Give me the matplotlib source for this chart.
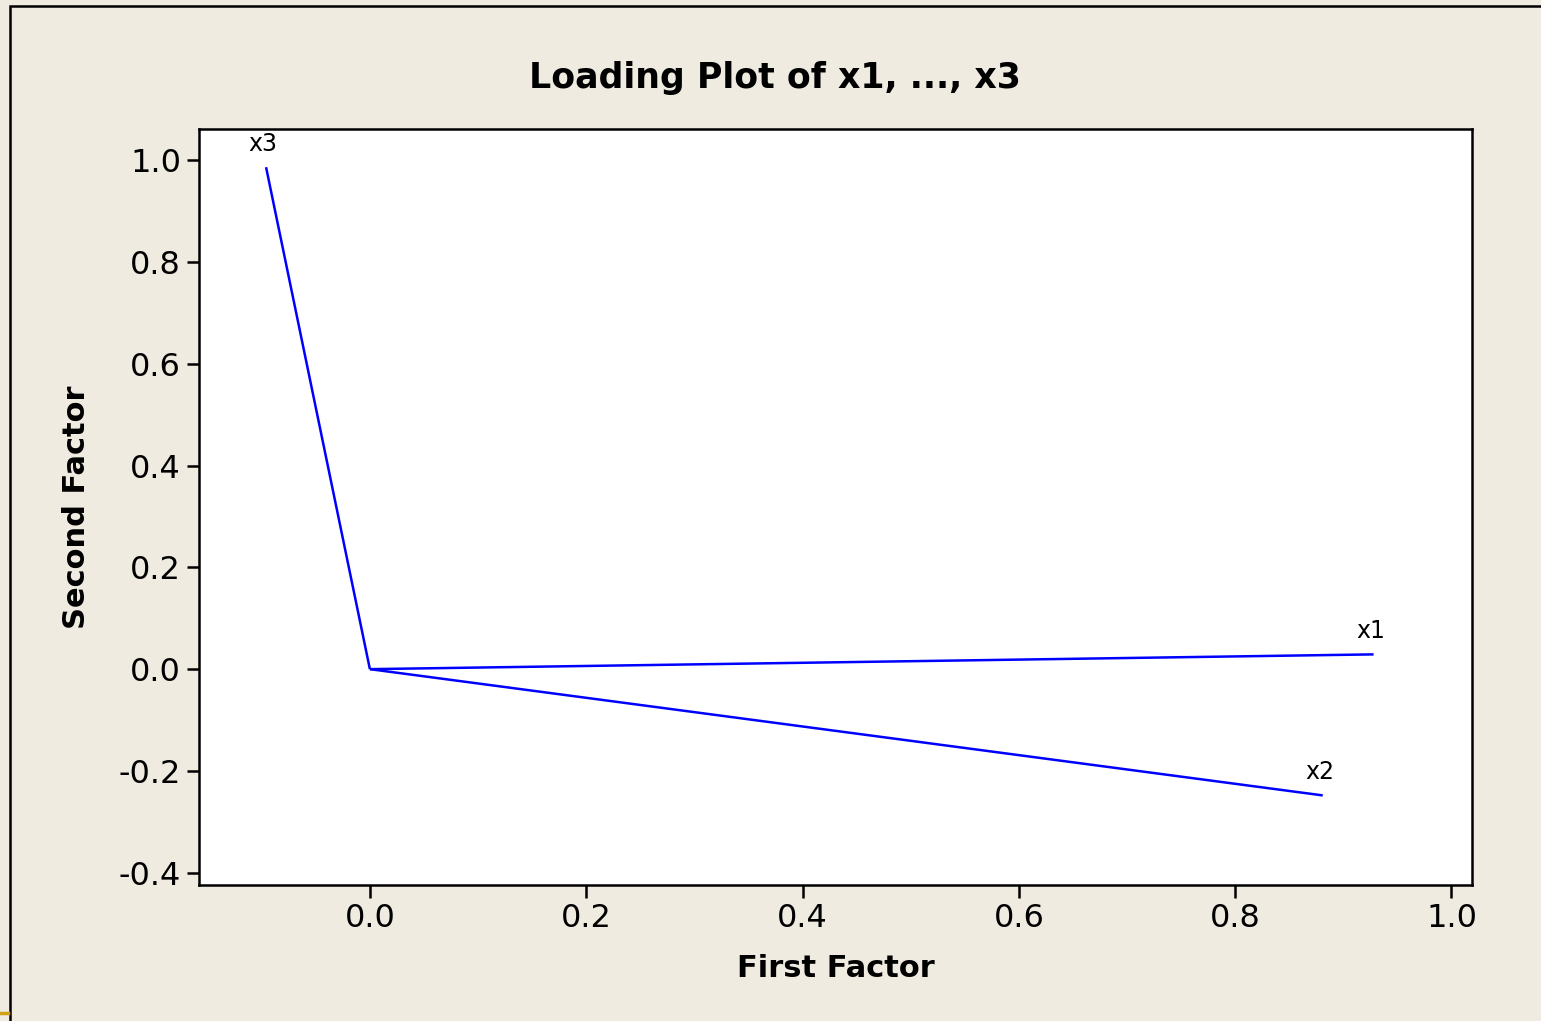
import matplotlib
matplotlib.use("Agg")
import matplotlib.pyplot as plt
from matplotlib.patches import Rectangle
from matplotlib.lines import Line2D

variables = ["x1", "x2", "x3"]
first_factor = [0.928, 0.881, -0.096]
second_factor = [0.029, -0.248, 0.986]

xticks = [0.0, 0.2, 0.4, 0.6, 0.8, 1.0]
yticks = [-0.4, -0.2, 0.0, 0.2, 0.4, 0.6, 0.8, 1.0]

W, H = 1541, 1021
fig = plt.figure(figsize=(W / 100, H / 100), dpi=100)
bg = "#EFEBE1"
fig.patch.set_facecolor(bg)

# outer frame (left and top edges visible)
fig.add_artist(Rectangle((10 / W, -0.05), 1.2, 1 - 6 / H + 0.05, transform=fig.transFigure,
                         fill=False, edgecolor="black", linewidth=1.8))
fig.add_artist(Line2D([0, 8 / W], [1 - 1013 / H] * 2, transform=fig.transFigure,
                      color="#D4A017", linewidth=2.5))

ax = fig.add_axes([199 / W, 1 - 885 / H, (1472 - 199) / W, (885 - 129) / H])
ax.set_facecolor("white")

for name, fx, fy in zip(variables, first_factor, second_factor):
    ax.plot([0, fx], [0, fy], color="#0000FF", linewidth=1.8, solid_capstyle="butt")
    ax.annotate(name, (fx, fy), xytext=(-2, 8), textcoords="offset points",
                ha="center", va="bottom", fontsize=17)

ax.set_xlim(-0.158, 1.019)
ax.set_ylim(-0.424, 1.061)
ax.set_xticks(xticks)
ax.set_yticks(yticks)
ax.set_xticklabels([f"{v:.1f}" for v in xticks])
ax.set_yticklabels([f"{v:.1f}" for v in yticks])
ax.tick_params(direction="out", length=9, width=1.8, labelsize=23, pad=4)
for s in ax.spines.values():
    s.set_linewidth(1.8)

ax.set_xlabel("First Factor", fontsize=22, fontweight="bold", labelpad=14)
ax.set_ylabel("Second Factor", fontsize=22, fontweight="bold", labelpad=20)
fig.text(775 / W, 1 - 78 / H, "Loading Plot of x1, ..., x3", ha="center", va="center",
         fontsize=25, fontweight="bold")

fig.savefig("out.png", dpi=100, facecolor=bg)
